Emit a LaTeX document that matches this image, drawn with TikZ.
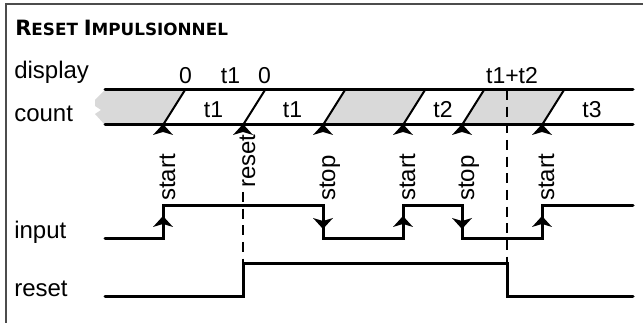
\documentclass[tikz,border=0pt]{standalone}
\usepackage{fontspec}
\setmainfont{Liberation Sans}
\newfontfamily\titlefont{DejaVu Sans}
\usetikzlibrary{arrows.meta}
\definecolor{areagrey}{gray}{0.85}
\definecolor{framec}{gray}{0.3}
\tikzset{
  uparr/.pic={\fill (0,0) -- (-10,11) -- (0,8) -- (10,11) -- cycle;},
  downarr/.pic={\fill (0,0) -- (-10,-11) -- (0,-8) -- (10,-11) -- cycle;}
}
\begin{document}
\begin{tikzpicture}[x=0.75pt,y=-0.75pt,
  wave/.style={line width=2.25pt, line cap=round},
  slash/.style={line width=1.5pt},
  guide/.style={line width=1.9pt, dash pattern=on 7.5pt off 5pt},
  lbl/.style={font=\fontsize{18}{21}\selectfont, inner sep=0},
  val/.style={font=\fontsize{17.25}{20}\selectfont, inner sep=0, anchor=base},
  vlbl/.style={lbl, rotate=90, anchor=base west},
  titlestyle/.style={font=\titlefont\bfseries\fontsize{15.8}{18}\selectfont, inner sep=0, anchor=base west}]
\useasboundingbox (0,0) rectangle (643,323);
% frame
\draw[framec, line width=1.5pt] (6,323) -- (6,4) -- (643,4);
% title
\node[titlestyle] (title) at (15,36)
  {R\fontsize{12.6}{14}\selectfont ESET \fontsize{15.8}{18}\selectfont I\fontsize{12.6}{14}\selectfont MPULSIONNEL};
% row labels
\node[lbl, anchor=base west] (ldisplay) at (14,79) {display};
\node[lbl, anchor=base west] (lcount) at (14,122) {count};
\node[lbl, anchor=base west] (linput) at (14,238.5) {input};
\node[lbl, anchor=base west] (lreset) at (14,297) {reset};
% shaded regions
\fill[areagrey] (105,90) -- (185,90) -- (163,125) -- (105,125) -- (95,114) -- (101,110) -- (95,106) -- (95,100) -- cycle;
\fill[areagrey] (345,90) -- (425,90) -- (403,125) -- (323,125) -- cycle;
\fill[areagrey] (484,90) -- (564,90) -- (542,125) -- (462,125) -- cycle;
% slashes
\foreach \x in {163,243,323,403,462,542}
  \draw[slash] (\x,125) -- ({\x+22},90);
% bus lines
\draw[wave] (105,90) -- (633,90);
\draw[wave] (105,125) -- (633,125);
% dashed guides
\draw[guide] (243,192) -- (243,264);
\draw[guide] (507,90) -- (507,264);
% waveforms
\draw[wave] (105,239) -- (163,239) -- (163,206) -- (323,206) -- (323,239) -- (403,239) -- (403,206) -- (462,206) -- (462,239) -- (542,239) -- (542,206) -- (633,206);
\draw[wave] (105,297) -- (243,297) -- (243,264) -- (507,264) -- (507,297) -- (633,297);
% arrowheads
\foreach \x in {163,243,323,403,462,542}
  \pic at (\x,124) {uparr};
\foreach \x in {163,403,542}
  \pic at (\x,216) {uparr};
\foreach \x in {323,462}
  \pic at (\x,229) {downarr};
% display values
\node[val] (d0a) at (185.5,84) {0};
\node[val] (dt1) at (230.5,84) {t1};
\node[val] (d0b) at (264.5,84) {0};
\node[val] (dt12) at (512,83.5) {t1+t2};
% count values
\node[val] (ct1a) at (213.5,118) {t1};
\node[val] (ct1b) at (292.5,118) {t1};
\node[val] (ct2) at (443,118) {t2};
\node[val] (ct3) at (592,118) {t3};
% event labels
\node[vlbl] (e1) at (175,201) {start};
\node[vlbl] (e2) at (255,188) {reset};
\node[vlbl] (e3) at (335,201) {stop};
\node[vlbl] (e4) at (415,201) {start};
\node[vlbl] (e5) at (474,201) {stop};
\node[vlbl] (e6) at (554,201) {start};
\end{tikzpicture}
\end{document}
